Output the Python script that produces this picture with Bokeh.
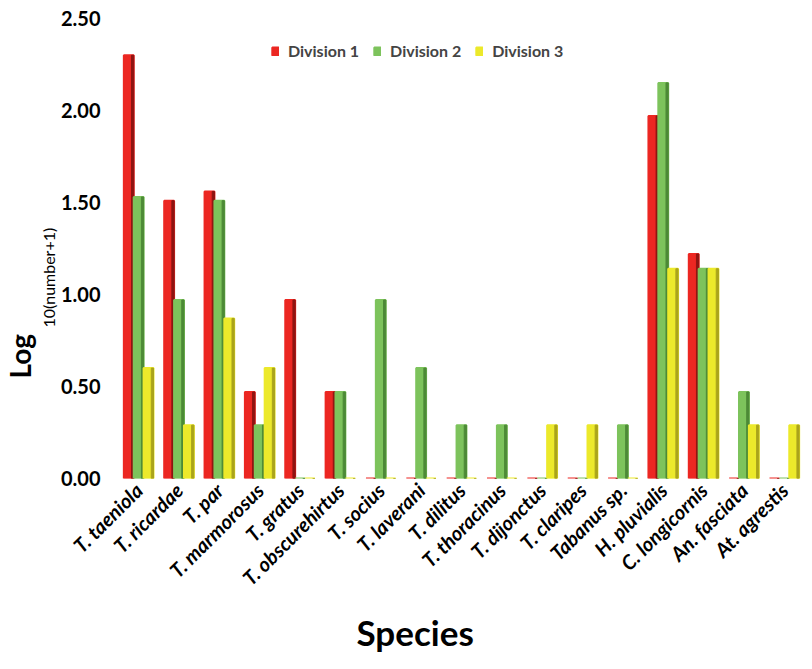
from math import pi
from bokeh.plotting import figure
from bokeh.models import (FactorRange, Range1d, Legend, LegendItem, Title,
                          ColumnDataSource, FixedTicker, PrintfTickFormatter)
from bokeh.transform import dodge
from bokeh.embed import file_html
from bokeh.resources import INLINE

species = ["T. taeniola", "T. ricardae", "T. par", "T. marmorosus", "T. gratus",
           "T. obscurehirtus", "T. socius", "T. laverani", "T. dilitus",
           "T. thoracinus", "T. dijonctus", "T. claripes", "Tabanus sp.",
           "H. pluvialis", "C. longicornis", "An. fasciata", "At. agrestis"]
division1 = [2.30, 1.51, 1.56, 0.47, 0.97, 0.47, 0, 0, 0, 0, 0, 0, 0, 1.97, 1.22, 0, 0]
division2 = [1.53, 0.97, 1.51, 0.29, 0, 0.47, 0.97, 0.60, 0.29, 0.29, 0, 0, 0.29, 2.15, 1.14, 0.47, 0]
division3 = [0.60, 0.29, 0.87, 0.60, 0, 0, 0, 0, 0, 0, 0.29, 0.29, 0, 1.14, 1.14, 0.29, 0.29]
series_names = ["Division 1", "Division 2", "Division 3"]
y_ticks = [0, 0.5, 1.0, 1.5, 2.0, 2.5]

colors = ["#ec2722", "#7dc35c", "#ece92b"]
dark = ["#8e1512", "#4d8a37", "#aaa41c"]

src = ColumnDataSource(dict(species=species, d1=division1, d2=division2, d3=division3))

p = figure(x_range=FactorRange(*species, range_padding=0), y_range=Range1d(0, 2.5),
           width=804, height=661, output_backend="svg", toolbar_location=None,
           min_border_left=114, min_border_right=0, min_border_top=18,
           min_border_bottom=183)
p.outline_line_color = None
p.grid.grid_line_color = None

offsets = [-0.245, 0.0, 0.245]
items = []
for col, off, c, dc, name in zip(["d1", "d2", "d3"], offsets, colors, dark, series_names):
    r = p.vbar(x=dodge("species", off, range=p.x_range), top=col, bottom=0, width=0.245,
               source=src, fill_color=c, line_color=c, line_width=2)
    p.vbar(x=dodge("species", off + 0.095, range=p.x_range), top=col, bottom=0, width=0.055,
           source=src, fill_color=dc, line_color=dc, line_width=1)
    items.append(LegendItem(label=name, renderers=[r]))

legend = Legend(items=items, orientation="horizontal", location=(153, 418),
                border_line_color=None, background_fill_alpha=0,
                glyph_width=8, glyph_height=10, label_height=16, label_standoff=9,
                spacing=14, label_text_font="Lato", label_text_font_style="bold",
                label_text_font_size="16px", padding=2, margin=0)
p.add_layout(legend)

# y axis
p.yaxis.ticker = FixedTicker(ticks=y_ticks)
p.yaxis.formatter = PrintfTickFormatter(format="%.2f")
p.yaxis.axis_line_color = None
p.yaxis.major_tick_line_color = None
p.yaxis.minor_tick_line_color = None
p.yaxis.major_label_text_font = "Lato"
p.yaxis.major_label_text_font_style = "bold"
p.yaxis.major_label_text_font_size = "20px"
p.yaxis.major_label_text_color = "black"
p.yaxis.major_label_standoff = 12

# x axis
p.xaxis.axis_line_color = None
p.xaxis.major_tick_line_color = None
p.xaxis.minor_tick_line_color = None
p.xaxis.major_label_orientation = pi / 4
p.xaxis.major_label_text_font = "Lato"
p.xaxis.major_label_text_font_style = "bold italic"
p.xaxis.major_label_text_font_size = "20px"
p.xaxis.major_label_text_color = "black"
p.xaxis.major_label_standoff = 2

# x title
p.add_layout(Title(text="Species", align="left", offset=238, standoff=14,
                   text_font="Lato", text_font_style="bold", text_font_size="35px",
                   text_color="black"), "below")

# y title: "Log" with subscript "10(number+1)"
p.add_layout(Title(text="10(number+1)", align="left", offset=151, standoff=0,
                   text_font="Lato", text_font_style="normal", text_font_size="16px",
                   text_color="black"), "left")
p.add_layout(Title(text="Log", align="left", offset=100, standoff=0,
                   text_font="Lato", text_font_style="bold", text_font_size="28px",
                   text_color="black"), "left")

open("out.html", "w").write(file_html(p, INLINE))
